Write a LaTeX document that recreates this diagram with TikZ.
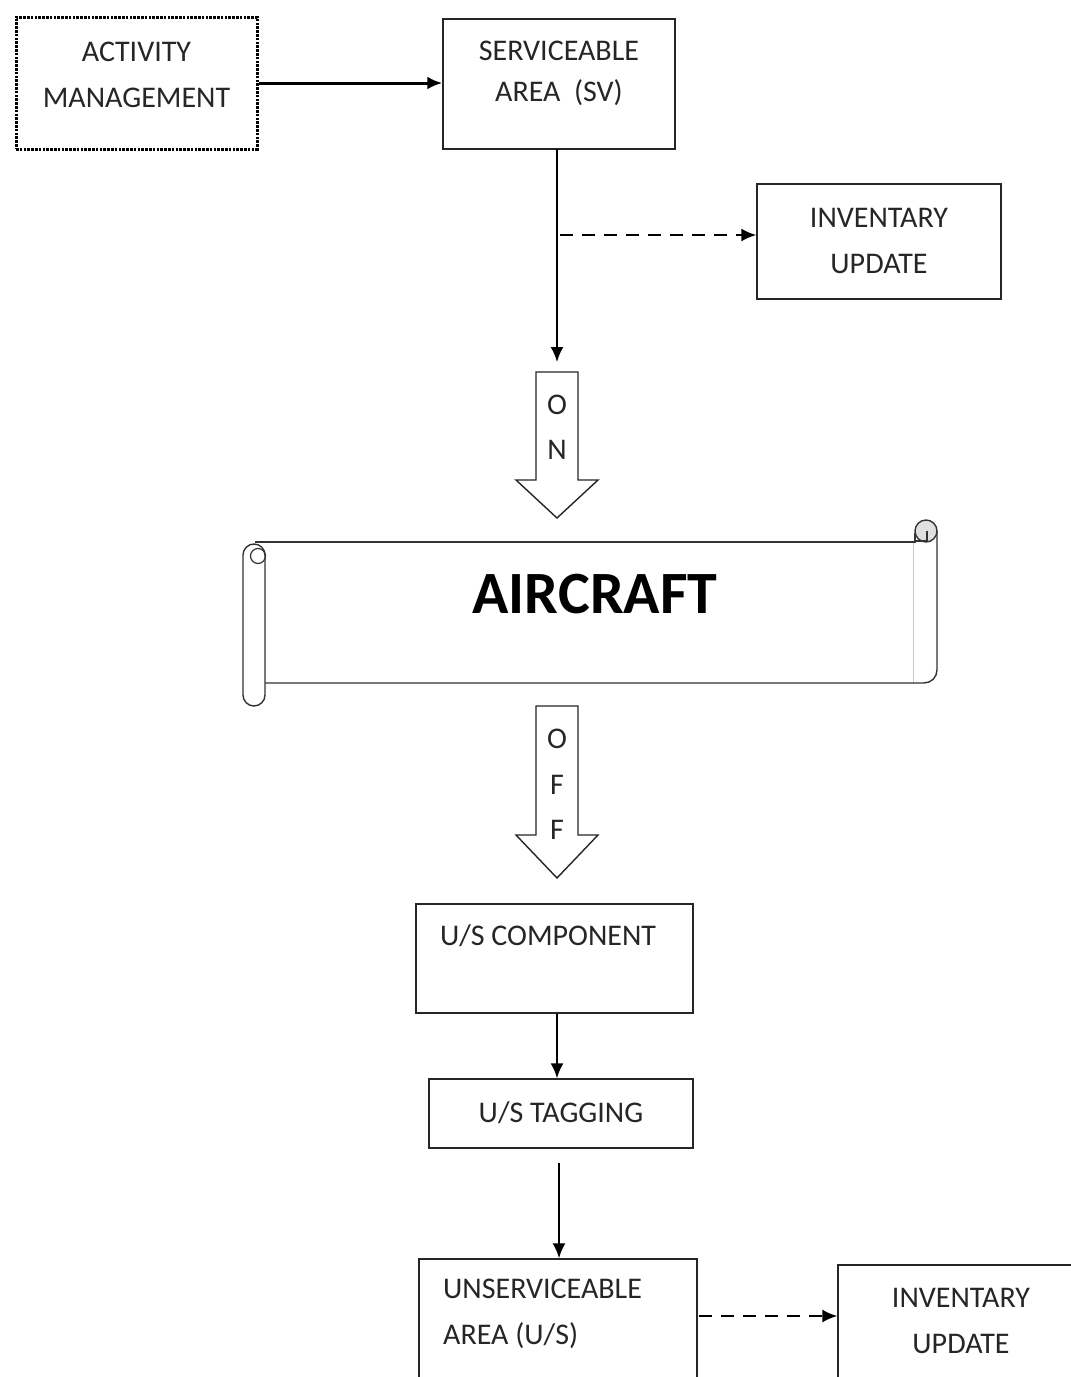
\documentclass[tikz,border=0pt]{standalone}
\usepackage{fontspec}
\setmainfont{Carlito}
\usetikzlibrary{arrows.meta}
\begin{document}
\begin{tikzpicture}[x=1pt,y=-1pt,
  box/.style={draw=black!85,line width=1.4pt,inner sep=0pt},
  txt/.style={inner sep=0pt,align=center,font=\fontsize{30}{46}\selectfont,text=black!85},
  conn/.style={line width=2pt,-{Latex[length=15pt,width=13pt]}},
  dconn/.style={line width=2pt,dash pattern=on 13pt off 9pt,-{Latex[length=15pt,width=13pt]}},
  blockarrow/.style={draw=black!85,line width=1.4pt,fill=white},
  letter/.style={font=\fontsize{30}{36}\selectfont,text=black!85,inner sep=0pt},
  scrollline/.style={draw=black!80,line width=1.4pt},
]
\useasboundingbox (0,0) rectangle (1071,1377);
\clip (0,0) rectangle (1071,1377);
\fill[white] (0,0) rectangle (1071,1377);

% top row
\node[box,draw=black,dash pattern=on 2.6pt off 1.2pt,line width=3pt,minimum width=241pt,minimum height=132pt] (am) at (136.5,83) {};
\node[txt] (amt) at (136.5,74.5) {ACTIVITY\\MANAGEMENT};
\node[box,minimum width=232pt,minimum height=130pt] (sv) at (559,84) {};
\node[txt,font=\fontsize{30}{41}\selectfont] (svt) at (559,73) {SERVICEABLE\\AREA\ \ (SV)};
\draw[conn,line width=3pt] (am.east |- 0,83) -- (sv.west |- 0,83);

\node[box,minimum width=244pt,minimum height=115pt] (inv1) at (879,241.5) {};
\node[txt] (inv1t) at (879,240.5) {INVENTARY\\UPDATE};

% ON block arrow
\coordinate (ontop) at (557,372);
\draw[blockarrow] (536,372) -- (578,372) -- (578,480) -- (598,480) -- (557,518) -- (516,480) -- (536,480) -- cycle;
\node[letter] (o1) at (557,405) {O};
\node[letter] (n1) at (557,450) {N};

\coordinate (svbot) at (557,149);
\coordinate (branch) at (560,235);
\draw[conn] (svbot) -- ([yshift=10pt]ontop);
\draw[dconn] (branch) -- (inv1.west |- branch);

% scroll
\node[font=\fontsize{60}{60}\selectfont\bfseries,text=black,inner sep=0pt] (ac) at (595,594) {AIRCRAFT};
\draw[black!20,line width=0.8pt] (913,542) -- (913,683);
\draw[scrollline] (255,542) -- (915,542) -- (915,533);
\draw[scrollline,fill=black!12] (926,531) circle (11pt);
\draw[black!80,line width=1.2pt] (915,541) -- (927,541) -- (927,531);
\draw[scrollline,rounded corners=13pt] (937,531) -- (937,683) -- (265,683);
\draw[scrollline,fill=white,rounded corners=11pt] (243,544) rectangle (265,706);
\draw[black!80,line width=1.2pt] (258,556) circle (7.5pt);

% OFF block arrow
\draw[blockarrow] (536,706) -- (578,706) -- (578,835) -- (598,835) -- (557,878) -- (516,835) -- (536,835) -- cycle;
\node[letter] (o2) at (557,739) {O};
\node[letter] (f1) at (557,785) {F};
\node[letter] (f2) at (557,830) {F};

% lower boxes
\node[box,minimum width=277pt,minimum height=109pt] (usc) at (554.5,958.5) {};
\node[txt,anchor=north] (usct) at (548,924) {U/S COMPONENT};
\node[box,minimum width=264pt,minimum height=69pt] (ust) at (561,1113.5) {};
\node[txt] (ustt) at (561,1112.5) {U/S TAGGING};
\draw[conn] (usc.south -| 557,0) -- (ust.north -| 557,0);

\node[box,minimum width=278pt,minimum height=170pt] (unsv) at (558,1344) {};
\node[txt,anchor=north west,align=left] (unsvt) at (443,1279) {UNSERVICEABLE\\AREA (U/S)};
\coordinate (tagbot) at (559,1163);
\draw[conn] (tagbot) -- (unsv.north -| tagbot);

\node[box,minimum width=264pt,minimum height=170pt] (inv2) at (970,1350) {};
\node[txt,anchor=north] (inv2t) at (961,1288) {INVENTARY\\UPDATE};
\coordinate (dstart) at (699,1316);
\draw[dconn] (dstart) -- (inv2.west |- dstart);
\end{tikzpicture}
\end{document}
